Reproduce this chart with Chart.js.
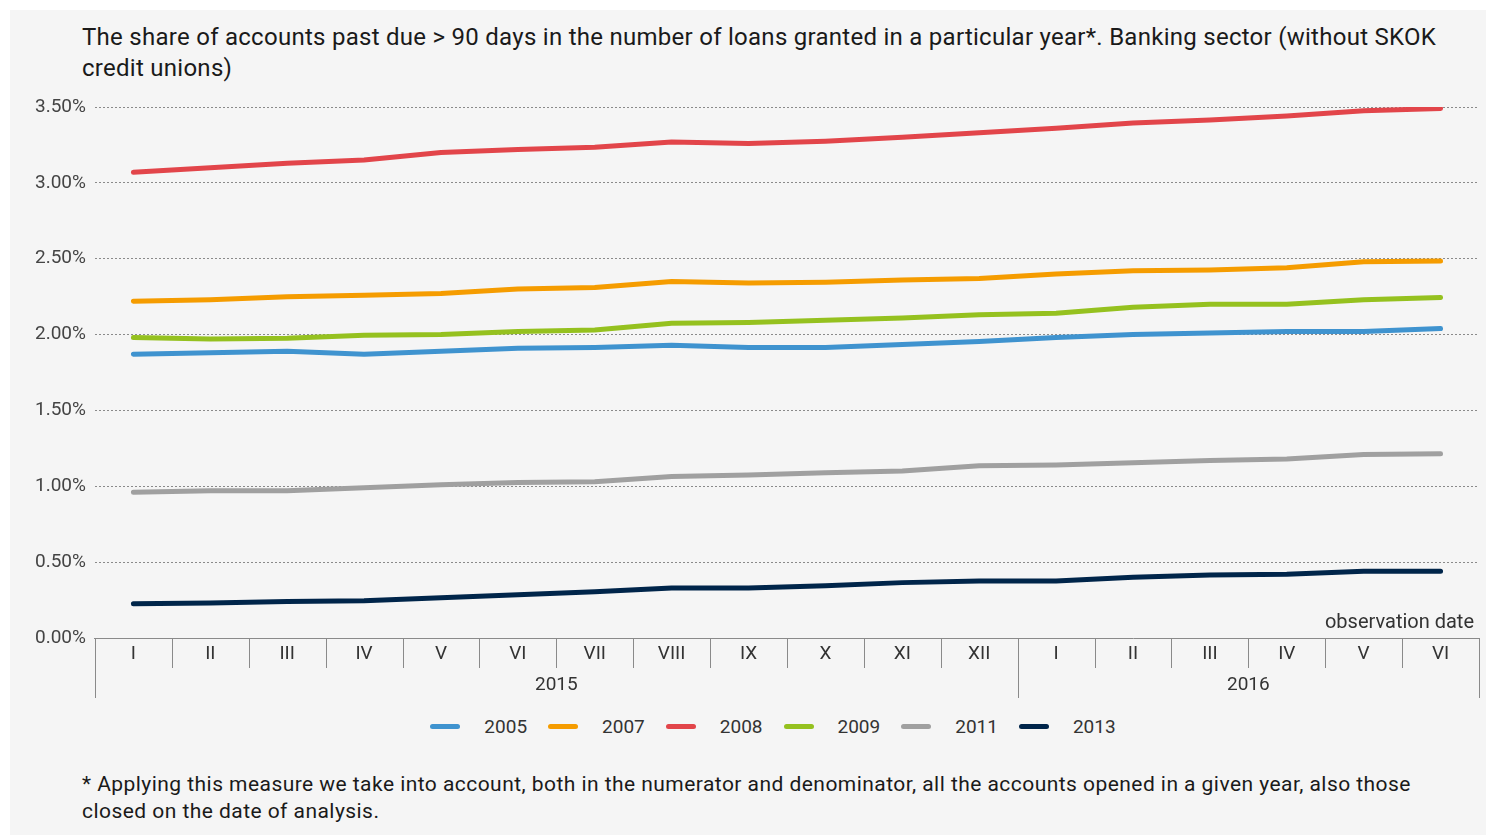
<!DOCTYPE html>
<html>
<head>
<meta charset="utf-8">
<script src="https://cdn.jsdelivr.net/npm/chart.js@4"></script>
<style>
    body { margin: 0; background: #fff; font-family: Roboto, sans-serif; }
    #panel { position: absolute; left: 10px; top: 10px; width: 1476px; height: 825px; background: #f5f5f5; }
    #title { position: absolute; left: 72px; top: 12px; font-size: 24px; letter-spacing: 0.27px; line-height: 31px; color: #1a1a1a; white-space: nowrap; }
    #chartBox { position: absolute; left: 0; top: 74px; width: 1476px; height: 616px; }
    #legend { position: absolute; left: 50px; top: 703px; width: 1426px; height: 26px; display: flex; justify-content: center; align-items: center; }
    #legend .item { display: flex; align-items: center; margin: 0 10.5px; font-size: 19px; color: #333; }
    #legend .swatch { width: 30px; height: 5px; border-radius: 3px; margin-right: 24px; }
    #note { position: absolute; left: 72px; top: 761px; font-size: 21px; letter-spacing: 0.45px; line-height: 27px; color: #1a1a1a; white-space: nowrap; }
</style>
</head>
<body>
<div id="panel">
    <div id="title">The share of accounts past due &gt; 90 days in the number of loans granted in a particular year*. Banking sector (without SKOK<br>credit unions)</div>
    <div id="chartBox"><canvas id="delinquencyChart"></canvas></div>
    <div id="legend"></div>
    <div id="note">* Applying this measure we take into account, both in the numerator and denominator, all the accounts opened in a given year, also those<br>closed on the date of analysis.</div>
</div>

<script>
// Observation months (Jan 2015 - Jun 2016)
const months = ['I', 'II', 'III', 'IV', 'V', 'VI', 'VII', 'VIII', 'IX', 'X', 'XI', 'XII',
                'I', 'II', 'III', 'IV', 'V', 'VI'];
const yearGroups = ['2015', '2016'];
const yearSpans = [12, 6];

// Share of accounts > 90 days past due, % - by year the loan was granted
const vintage2005 = [1.87, 1.88, 1.89, 1.87, 1.89, 1.91, 1.915, 1.93, 1.915, 1.915, 1.935, 1.955, 1.98, 2.00, 2.01, 2.02, 2.02, 2.04];
const vintage2007 = [2.22, 2.23, 2.25, 2.26, 2.27, 2.30, 2.31, 2.35, 2.34, 2.345, 2.36, 2.37, 2.40, 2.42, 2.425, 2.44, 2.48, 2.485];
const vintage2008 = [3.07, 3.10, 3.13, 3.15, 3.20, 3.22, 3.235, 3.27, 3.26, 3.275, 3.30, 3.33, 3.36, 3.395, 3.415, 3.44, 3.475, 3.49];
const vintage2009 = [1.98, 1.97, 1.975, 1.995, 2.00, 2.02, 2.03, 2.075, 2.08, 2.095, 2.11, 2.13, 2.14, 2.18, 2.20, 2.20, 2.23, 2.245];
const vintage2011 = [0.96, 0.97, 0.97, 0.99, 1.01, 1.025, 1.03, 1.065, 1.075, 1.09, 1.10, 1.135, 1.14, 1.155, 1.17, 1.18, 1.21, 1.215];
const vintage2013 = [0.225, 0.23, 0.24, 0.245, 0.265, 0.285, 0.305, 0.33, 0.33, 0.345, 0.365, 0.375, 0.375, 0.40, 0.415, 0.42, 0.44, 0.44];

const seriesNames = ['2005', '2007', '2008', '2009', '2011', '2013'];
const seriesData = [vintage2005, vintage2007, vintage2008, vintage2009, vintage2011, vintage2013];
const seriesColors = ['#3f93cf', '#f59c00', '#e2454a', '#95c11f', '#a0a0a0', '#00254a'];

const yTicks = [0, 0.5, 1, 1.5, 2, 2.5, 3, 3.5];

const fontFamily = 'Roboto, sans-serif';
const axisColor = '#8a8a8a';
const rowHeight = 30;

// Month separators, year row and the "observation date" caption
const axisRowsPlugin = {
    id: 'axisRows',
    afterDraw(chart) {
        const ctx = chart.ctx;
        const x = chart.scales.x;
        const half = (x.getPixelForValue(1) - x.getPixelForValue(0)) / 2;
        const top = chart.chartArea.bottom;
        const line = (px, y0, y1) => {
            const p = Math.round(px) + 0.5;
            ctx.beginPath();
            ctx.moveTo(p, y0);
            ctx.lineTo(p, y1);
            ctx.stroke();
        };

        ctx.save();
        ctx.strokeStyle = axisColor;
        ctx.lineWidth = 1;

        // boundaries between months
        for (let i = 0; i <= months.length; i++) {
            line(x.getPixelForValue(0) - half + i * half * 2, top, top + rowHeight);
        }

        // year groups
        ctx.fillStyle = '#333';
        ctx.font = '19px ' + fontFamily;
        ctx.textAlign = 'center';
        ctx.textBaseline = 'middle';
        let start = 0;
        line(x.getPixelForValue(0) - half, top + rowHeight, top + 2 * rowHeight);
        yearGroups.forEach((year, i) => {
            const end = start + yearSpans[i] - 1;
            const left = x.getPixelForValue(start) - half;
            const right = x.getPixelForValue(end) + half;
            line(right, top + rowHeight, top + 2 * rowHeight);
            ctx.fillText(year, (left + right) / 2, top + rowHeight + 17);
            start = end + 1;
        });

        ctx.font = '20px ' + fontFamily;
        ctx.textAlign = 'right';
        ctx.fillText('observation date', chart.chartArea.right - 5, top - 15);
        ctx.restore();
    }
};

const ctx = document.getElementById('delinquencyChart').getContext('2d');
const chart = new Chart(ctx, {
    type: 'line',
    data: {
        labels: months,
        datasets: seriesNames.map((name, i) => ({
            label: name,
            data: seriesData[i],
            borderColor: seriesColors[i],
            backgroundColor: seriesColors[i],
            borderWidth: 5,
            borderCapStyle: 'round',
            borderJoinStyle: 'round',
            pointRadius: 0,
            tension: 0
        }))
    },
    options: {
        responsive: true,
        maintainAspectRatio: false,
        animation: false,
        layout: { padding: { top: 23, right: 7, left: 16, bottom: 0 } },
        plugins: {
            legend: { display: false },
            tooltip: { enabled: false }
        },
        scales: {
            x: {
                offset: true,
                grid: {
                    drawOnChartArea: false,
                    drawTicks: false
                },
                border: { color: axisColor },
                ticks: {
                    font: { family: fontFamily, size: 19 },
                    color: '#333',
                    padding: 5,
                    maxRotation: 0,
                    autoSkip: false
                },
                afterFit(scale) {
                    // two label rows: months and years
                    scale.height = 2 * rowHeight + 2;
                }
            },
            y: {
                min: 0,
                max: 3.5,
                afterBuildTicks(scale) {
                    scale.ticks = yTicks.map(v => ({ value: v }));
                },
                grid: {
                    drawTicks: false,
                    color: '#8a8a8a',
                    lineWidth: 1
                },
                border: { display: false, dash: [2, 2] },
                ticks: {
                    font: { family: fontFamily, size: 19 },
                    color: '#444',
                    padding: 9,
                    callback: v => v.toFixed(2) + '%'
                }
            }
        }
    },
    plugins: [axisRowsPlugin]
});

// Legend built from the datasets
const legendBox = document.getElementById('legend');
chart.data.datasets.forEach(ds => {
    const item = document.createElement('div');
    item.className = 'item';
    const swatch = document.createElement('span');
    swatch.className = 'swatch';
    swatch.style.background = ds.borderColor;
    item.appendChild(swatch);
    item.appendChild(document.createTextNode(ds.label));
    legendBox.appendChild(item);
});
</script>
</body>
</html>
